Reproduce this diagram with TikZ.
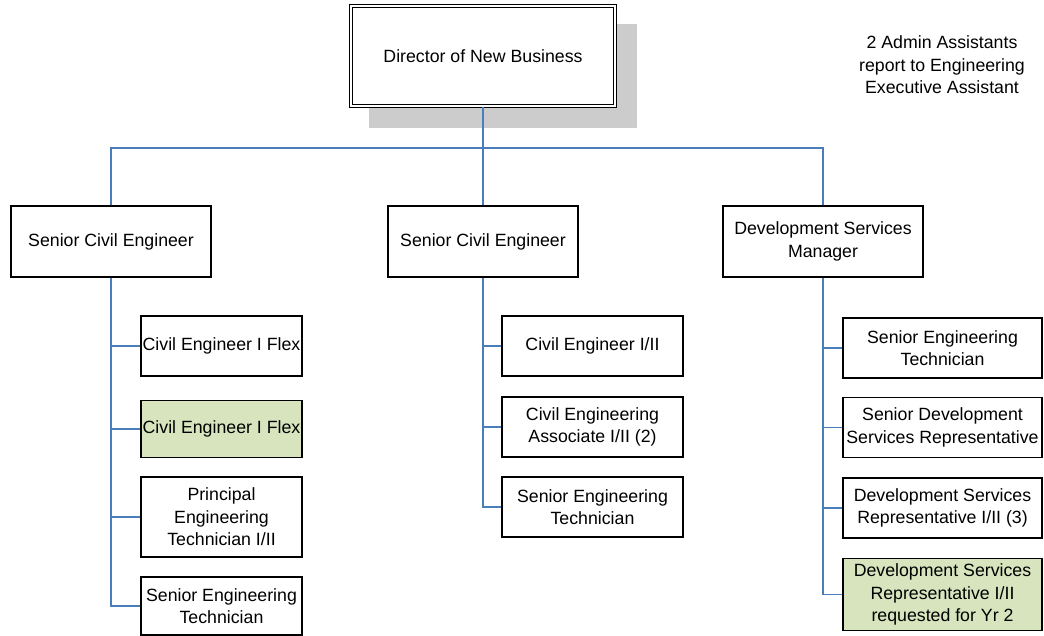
\documentclass[tikz,border=0pt]{standalone}
\usepackage{fontspec}
\setmainfont{Liberation Sans}
\begin{document}
\begin{tikzpicture}[x=0.75pt,y=-0.75pt,
  every node/.style={font=\fontsize{13.3}{16.9}\selectfont, align=center, inner sep=0pt},
  sz/.style 2 args={minimum width=#1*0.75pt, minimum height=#2*0.75pt},
  box/.style={draw=black, line width=0.8pt, fill=white, rectangle},
  newpos/.style={box, fill=newgreen},
  link/.style={draw=linkblue, line width=1.1pt}
]
\definecolor{newgreen}{HTML}{D7E4BD}
\definecolor{linkblue}{HTML}{4A7EBB}
\definecolor{shadowgray}{HTML}{CCCCCC}
\useasboundingbox (0,0) rectangle (1044,635);

% director, with its drop shadow
\fill[shadowgray] (369,24) rectangle (637,128);
\node[draw=black, double, line width=0.8pt, double distance=1.6pt, fill=white,
      sz={264}{100}] (dir) at (483,56) {Director of New Business};

\node (note) at (942,65) {2 Admin Assistants\\report to Engineering\\Executive Assistant};

% second level
\node[box, sz={200}{71}] (sce1) at (111,241.5) {Senior Civil Engineer};
\node[box, sz={190}{71}] (sce2) at (483,241.5) {Senior Civil Engineer};
\node[box, sz={200}{71}] (dsm) at (823,241.5) {Development Services\\Manager};

% left branch
\node[box, sz={161}{60}] (a1) at (221.5,346) {Civil Engineer I Flex};
\node[newpos, sz={161}{57}] (a2) at (221.5,429) {Civil Engineer I Flex};
\node[box, sz={161}{80}] (a3) at (221.5,517) {Principal\\Engineering\\Technician I/II};
\node[box, sz={161}{58}] (a4) at (221.5,606) {Senior Engineering\\Technician};

% middle branch
\node[box, sz={181}{60}] (b1) at (592.5,346) {Civil Engineer I/II};
\node[box, sz={181}{60}] (b2) at (592.5,427) {Civil Engineering\\Associate I/II (2)};
\node[box, sz={181}{60}] (b3) at (592.5,507) {Senior Engineering\\Technician};

% right branch
\node[box, sz={199}{60}] (c1) at (942.5,348) {Senior Engineering\\Technician};
\node[box, sz={199}{60}] (c2) at (942.5,427.5) {Senior Development\\Services Representative};
\node[box, sz={199}{60}] (c3) at (942.5,508) {Development Services\\Representative I/II (3)};
\node[newpos, sz={199}{72}] (c4) at (942.5,594.5) {Development Services\\Representative I/II\\requested for Yr 2};

% connectors
\coordinate (bus) at (483,148);
\draw[link] (dir.south) -- (bus);
\draw[link] (bus) -| (sce1.north);
\draw[link] (bus) -| (dsm.north);
\draw[link] (bus) -- (sce2.north);

\foreach \n in {a1,a2,a3,a4} \draw[link] (sce1.south) |- (\n.west);
\foreach \n in {b1,b2,b3} \draw[link] (sce2.south) |- (\n.west);
\foreach \n in {c1,c2,c3,c4} \draw[link] (dsm.south) |- (\n.west);
\end{tikzpicture}
\end{document}
